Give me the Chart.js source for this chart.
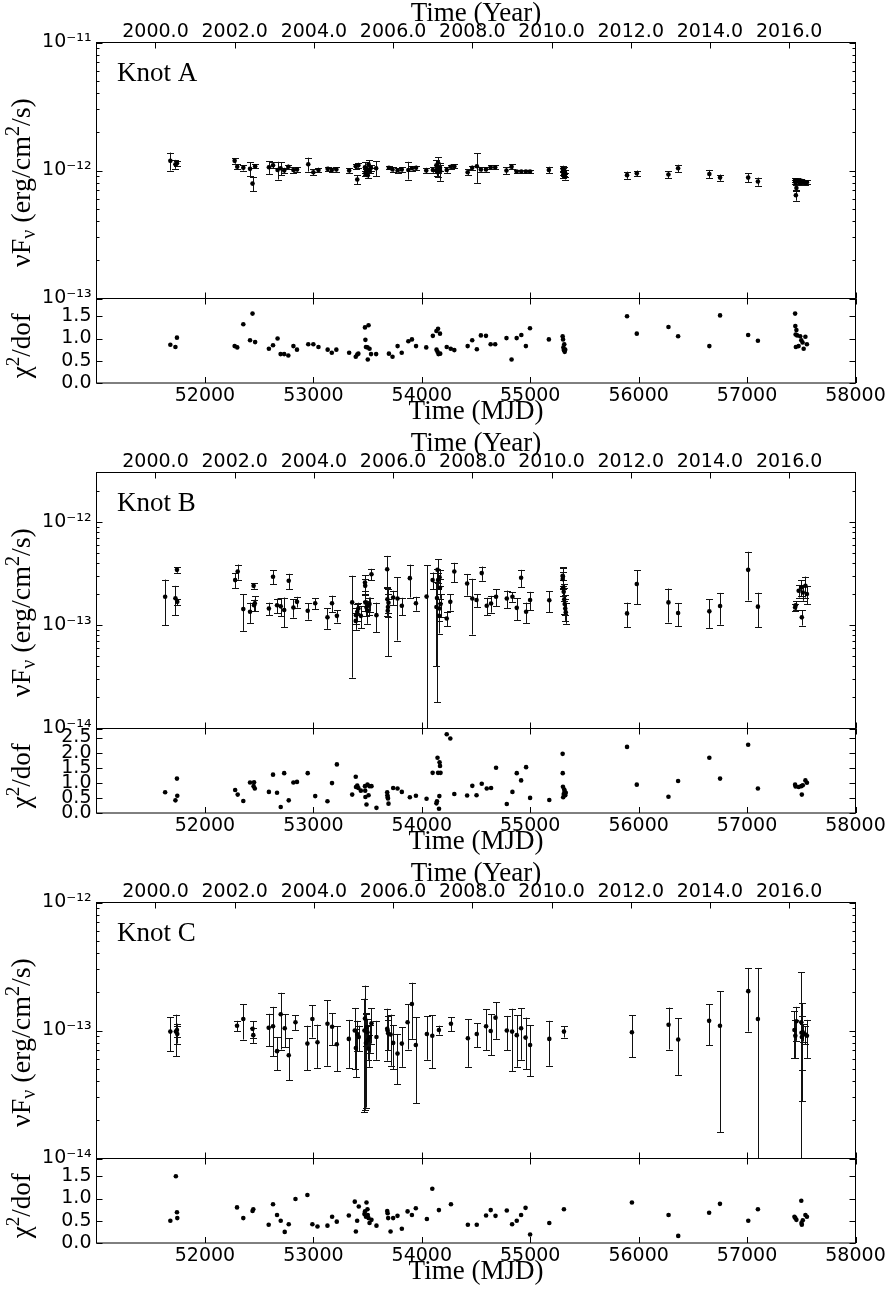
<!DOCTYPE html>
<html><head><meta charset="utf-8">
<script src="https://cdn.jsdelivr.net/npm/chart.js@4.4.1/dist/chart.umd.min.js"></script>
<style>
html,body{margin:0;padding:0;background:#fff;}
#wrap{position:relative;width:890px;height:1291px;overflow:hidden;background:#fff;}
canvas{position:absolute;left:0;}
</style></head><body><div id="wrap"></div>
<script>
// ---------- axis ticks / labels ----------
const yearTicks = [2000, 2002, 2004, 2006, 2008, 2010, 2012, 2014, 2016];
const yearTickLabels = ['2000.0','2002.0','2004.0','2006.0','2008.0','2010.0','2012.0','2014.0','2016.0'];
const mjdTicks = [52000, 53000, 54000, 55000, 56000, 57000, 58000];
const mjdTickLabels = ['52000','53000','54000','55000','56000','57000','58000'];

// ---------- Knot A (flux in units of 1e-12 erg/cm2/s) ----------
const mjdA = [51681,51728,51742,52274,52298,52354,52416,52439,52463,52590,52628,52670,52698,52731,52769,52816,52849,52953,53000,53047,53132,53170,53212,53330,53391,53405,53415,53476,53480,53485,53499,53509,53502,53518,53532,53579,53697,53730,53777,53815,53876,53909,53947,54041,54102,54135,54150,54168,54136,54145,54154,54170,54230,54267,54300,54423,54465,54508,54545,54592,54635,54677,54781,54828,54875,54918,54960,54998,55172,55299,55303,55306,55310,55314,55318,55323,55893,55983,56275,56364,56652,56751,57010,57100,57443,57445,57448,57450,57455,57462,57475,57490,57500,57512,57522,57538,57552];
const fluxA = [1.19,1.12,1.14,1.19,1.07,1.05,1.03,0.79,1.08,1.06,1.10,1.01,1.04,1.00,1.07,1.01,1.02,1.12,0.97,1.01,1.03,1.01,1.02,1.00,1.08,0.85,1.10,1.06,0.95,0.98,1.02,1.12,0.92,1.00,1.05,1.04,1.05,1.02,1.00,1.02,1.01,1.04,1.05,1.00,1.01,1.10,1.15,1.05,1.00,0.97,1.03,0.99,1.01,1.07,1.08,0.97,1.05,1.08,1.02,1.02,1.06,1.06,1.00,1.07,0.98,0.98,0.98,0.98,1.01,1.03,0.98,0.93,0.96,1.00,0.90,0.95,0.92,0.95,0.93,1.04,0.94,0.88,0.88,0.82,0.84,0.82,0.80,0.64,0.73,0.84,0.82,0.80,0.83,0.81,0.82,0.80,0.81];
const errA = [0.19,0.09,0.05,0.06,0.05,0.05,0.13,0.10,0.04,0.12,0.06,0.16,0.12,0.05,0.04,0.05,0.04,0.14,0.05,0.04,0.04,0.04,0.04,0.04,0.05,0.07,0.05,0.10,0.05,0.05,0.06,0.08,0.05,0.05,0.05,0.14,0.03,0.04,0.04,0.04,0.16,0.04,0.04,0.05,0.05,0.10,0.12,0.06,0.10,0.08,0.07,0.16,0.05,0.04,0.04,0.05,0.04,0.28,0.04,0.04,0.04,0.04,0.06,0.05,0.03,0.03,0.03,0.03,0.06,0.06,0.06,0.06,0.05,0.06,0.05,0.06,0.06,0.05,0.06,0.07,0.07,0.05,0.07,0.06,0.03,0.03,0.03,0.06,0.04,0.03,0.03,0.03,0.03,0.03,0.03,0.03,0.03];
const chiA = [0.86,0.81,1.02,0.83,0.80,1.32,0.96,1.56,0.92,0.77,0.85,1.00,0.65,0.65,0.62,0.83,0.75,0.87,0.87,0.81,0.75,0.68,0.75,0.68,0.59,0.64,0.66,1.25,0.97,0.81,0.80,1.30,0.53,0.77,0.65,0.65,0.66,0.59,0.83,0.68,0.94,0.98,0.83,0.80,1.06,1.17,1.22,1.11,0.75,0.70,0.65,0.66,0.81,0.77,0.74,0.83,0.96,0.76,1.07,1.06,0.87,0.87,1.01,0.53,1.01,1.08,0.83,1.23,0.98,1.05,0.98,0.80,0.74,0.87,0.70,0.75,1.50,1.11,1.26,1.05,0.83,1.52,1.08,0.95,1.56,1.28,1.09,0.81,1.19,1.07,0.83,1.05,0.96,0.91,0.77,1.04,0.87];

// ---------- Knot B (flux in units of 1e-13) ----------
const mjdB = [51633,51728,51742,51745,52279,52302,52354,52416,52449,52453,52460,52590,52628,52665,52699,52731,52773,52816,52849,52948,53017,53130,53172,53217,53358,53391,53393,53405,53415,53438,53476,53478,53480,53490,53499,53509,53518,53536,53582,53681,53683,53686,53688,53693,53736,53776,53816,53890,53946,54044,54100,54135,54140,54145,54150,54164,54168,54173,54162,54159,54230,54263,54300,54418,54466,54505,54553,54599,54639,54685,54784,54836,54876,54916,54962,54999,55176,55299,55300,55302,55304,55309,55314,55318,55323,55328,55893,55983,56275,56364,56652,56751,57010,57100,57443,57448,57476,57500,57505,57514,57538,57552];
const fluxB = [1.88,1.82,3.43,1.68,2.73,3.31,1.43,1.35,2.40,1.56,1.63,1.45,2.94,1.56,1.52,1.40,2.69,1.48,1.68,1.38,1.63,1.19,1.63,1.23,1.66,1.10,1.25,1.35,1.45,1.23,2.59,2.40,1.66,1.48,1.38,1.55,1.60,3.11,1.25,3.48,1.78,1.38,1.50,1.65,1.85,1.81,1.54,2.85,1.63,1.89,2.73,1.50,1.83,3.43,2.73,2.90,2.30,1.60,1.45,1.23,1.16,1.68,3.31,2.53,1.81,1.75,3.19,1.54,1.62,1.88,1.81,1.88,1.47,2.88,1.35,1.75,1.74,3.00,2.79,2.95,2.31,2.10,1.78,1.60,1.45,1.33,1.30,2.50,1.66,1.31,1.36,1.53,3.43,1.51,1.48,1.56,2.15,2.31,1.19,2.07,2.40,2.00];
const errB = [0.88,0.58,0.22,0.12,0.45,0.55,0.55,0.30,0.15,0.20,0.27,0.20,0.45,0.25,0.30,0.45,0.45,0.30,0.20,0.25,0.20,0.27,0.30,0.17,1.35,0.20,0.22,0.25,0.20,0.30,0.45,0.40,0.30,0.25,0.35,0.30,0.25,0.40,0.40,1.20,0.55,0.88,0.30,0.35,0.30,1.10,0.30,1.00,0.25,1.92,0.50,1.10,1.65,0.90,0.50,0.50,0.50,0.40,0.35,0.40,0.18,0.30,0.70,0.60,1.00,0.25,0.50,0.30,0.30,0.35,0.35,0.20,0.35,0.55,0.30,0.35,0.40,0.60,0.50,0.70,0.40,0.40,0.50,0.35,0.35,0.30,0.35,0.90,0.60,0.33,0.42,0.52,1.70,0.55,0.12,0.15,0.30,0.40,0.20,0.35,0.55,0.40];
const chiB = [0.69,0.42,1.14,0.57,0.76,0.61,0.40,1.01,0.89,1.02,0.81,0.70,1.27,0.67,0.20,1.32,0.42,1.01,1.03,1.32,0.56,0.39,0.99,1.61,0.61,1.20,0.86,0.91,0.83,0.74,0.89,0.74,0.53,0.28,0.94,0.59,0.89,0.89,0.17,0.69,0.59,0.52,0.48,0.31,0.83,0.81,0.70,0.52,0.57,0.47,1.33,0.32,0.39,1.83,1.33,1.68,1.56,1.33,0.56,0.14,2.61,2.47,0.63,0.58,0.90,0.59,0.97,0.81,0.83,1.50,0.30,0.70,1.32,1.08,1.52,0.50,0.43,1.96,1.32,0.87,0.52,0.63,0.78,0.72,0.59,0.67,2.19,0.94,0.54,1.06,1.83,1.14,2.26,0.81,0.94,0.88,0.86,0.89,0.61,0.92,1.08,1.00];

// ---------- Knot C (flux in units of 1e-13) ----------
const mjdC = [51681,51732,51742,51745,52296,52354,52439,52446,52588,52628,52665,52699,52736,52773,52835,52945,52991,53038,53130,53173,53216,53327,53382,53392,53404,53419,53471,53476,53485,53490,53499,53502,53509,53518,53536,53582,53681,53685,53690,53712,53736,53776,53816,53869,53909,53945,54047,54097,54158,54269,54425,54507,54593,54636,54680,54784,54833,54876,54916,54957,54999,55176,55311,55938,56276,56365,56650,56750,57011,57100,57437,57445,57455,57500,57502,57505,57514,57538,57552];
const fluxC = [0.98,0.98,1.01,0.94,1.09,1.23,1.03,0.92,1.05,1.08,0.69,1.34,1.04,0.64,1.16,0.79,1.23,0.81,1.13,1.07,0.78,0.86,1.00,0.73,0.94,0.89,1.00,1.24,0.80,1.06,0.97,0.84,0.72,0.89,1.14,0.89,1.03,1.00,0.95,0.93,0.80,0.66,0.79,1.16,1.61,0.77,0.94,0.91,1.01,1.13,0.87,0.94,1.08,0.99,1.26,1.00,0.98,0.92,1.04,0.88,0.77,0.86,0.98,0.97,1.11,0.85,1.19,1.09,2.03,1.23,1.01,0.91,1.18,1.16,0.96,0.89,0.97,0.93,0.91];
const errC = [0.29,0.35,0.12,0.15,0.10,0.38,0.15,0.12,0.30,0.45,0.20,0.63,0.30,0.23,0.15,0.30,0.35,0.30,0.60,0.30,0.30,0.35,0.50,0.30,0.25,0.20,0.77,1.00,0.55,0.30,0.25,0.25,0.20,0.22,0.35,0.30,0.45,0.30,0.25,0.40,0.30,0.28,0.27,0.45,0.75,0.50,0.35,0.40,0.08,0.14,0.35,0.20,0.38,0.35,0.40,0.30,0.50,0.40,0.45,0.38,0.33,0.33,0.10,0.35,0.40,0.40,0.42,0.93,1.05,1.85,0.40,0.30,0.35,1.70,0.68,0.40,0.15,0.15,0.30];
const chiC = [0.50,1.50,0.69,0.56,0.80,0.56,0.72,0.76,0.41,0.87,0.63,0.50,0.25,0.42,0.99,1.08,0.42,0.37,0.39,0.59,0.48,0.62,0.93,0.26,0.50,0.82,0.65,0.71,0.59,0.91,0.76,0.63,0.56,0.45,0.52,0.39,0.72,0.67,0.56,0.26,0.56,0.61,0.32,0.71,0.63,0.78,0.54,1.22,0.74,0.87,0.41,0.41,0.62,0.74,0.61,0.73,0.42,0.50,0.63,0.79,0.19,0.45,0.76,0.91,0.63,0.16,0.68,0.88,0.50,0.76,0.59,0.56,0.52,0.95,0.45,0.41,0.51,0.63,0.59];

// ---------- per-panel axis settings ----------
const panels = [
  {name:'Knot A', mjd:mjdA, flux:fluxA, err:errA, chi:chiA, unit:1e-12,
   yMin:1e-13, yMax:1e-11, yTicks:[1e-13,1e-12,1e-11], yTickLabels:['10\u207B\u00B9\u00B3','10\u207B\u00B9\u00B2','10\u207B\u00B9\u00B9'],
   chiMax:1.9, chiTicks:[0,0.5,1.0,1.5], chiTickLabels:['0.0','0.5','1.0','1.5']},
  {name:'Knot B', mjd:mjdB, flux:fluxB, err:errB, chi:chiB, unit:1e-13,
   yMin:1e-14, yMax:3e-12, yTicks:[1e-14,1e-13,1e-12], yTickLabels:['10\u207B\u00B9\u2074','10\u207B\u00B9\u00B3','10\u207B\u00B9\u00B2'],
   chiMax:2.8, chiTicks:[0,0.5,1.0,1.5,2.0,2.5], chiTickLabels:['0.0','0.5','1.0','1.5','2.0','2.5']},
  {name:'Knot C', mjd:mjdC, flux:fluxC, err:errC, chi:chiC, unit:1e-13,
   yMin:1e-14, yMax:1e-12, yTicks:[1e-14,1e-13,1e-12], yTickLabels:['10\u207B\u00B9\u2074','10\u207B\u00B9\u00B3','10\u207B\u00B9\u00B2'],
   chiMax:1.9, chiTicks:[0,0.5,1.0,1.5], chiTickLabels:['0.0','0.5','1.0','1.5']}
];

const MJD_MIN = 51000, MJD_MAX = 58000, MJD_Y2000 = 51544, DAYS_YR = 365.25;
const toYear = m => 2000 + (m - MJD_Y2000) / DAYS_YR;

const W = 890, PANEL_STEP = 430;
const MAIN_H = 312, MAIN_TOP = 42.5, MAIN_BOTTOM = 298.5;
const CHI_OFF = 290, CHI_H = 140, CHI_TOP = 8.5, CHI_BOTTOM = 93;
const AX_LEFT = 96.5, AX_RIGHT = 855.5;
const TICK_FONT = {family:'DejaVu Sans', size:19};
const SERIF = 'Liberation Serif';
const SERIF_SIZE = 27;

function richVertical(ctx, parts, bx, cy) {
  ctx.save();
  ctx.translate(bx, cy);
  ctx.rotate(-Math.PI / 2);
  let w = 0;
  parts.forEach(p => { ctx.font = p.f; p.w = ctx.measureText(p.t).width; w += p.w; });
  let x = -w / 2;
  ctx.fillStyle = '#000';
  ctx.textBaseline = 'alphabetic';
  ctx.textAlign = 'left';
  parts.forEach(p => { ctx.font = p.f; ctx.fillText(p.t, x, p.dy || 0); x += p.w; });
  ctx.restore();
}

const decor = {
  id: 'decor',
  beforeDatasetsDraw(chart, args, o) {
    if (!o.err) return;
    const {ctx, chartArea: a} = chart;
    const xs = chart.scales.x, ys = chart.scales.y;
    ctx.save();
    ctx.beginPath(); ctx.rect(a.left, a.top, a.right - a.left, a.bottom - a.top); ctx.clip();
    ctx.strokeStyle = '#111'; ctx.lineWidth = 1;
    const e = o.err;
    for (let i = 0; i < e.mjd.length; i++) {
      const x = Math.round(xs.getPixelForValue(e.mjd[i])) + 0.5;
      const f = e.flux[i] * e.unit, d = e.err[i] * e.unit;
      const lo = f - d, hi = f + d;
      const yHi = ys.getPixelForValue(hi);
      const yLo = lo > 0 ? ys.getPixelForValue(lo) : a.bottom + 10;
      ctx.beginPath();
      ctx.moveTo(x, yLo); ctx.lineTo(x, yHi);
      ctx.moveTo(x - 3.5, Math.round(yHi) + 0.5); ctx.lineTo(x + 3.5, Math.round(yHi) + 0.5);
      if (lo > 0) { ctx.moveTo(x - 3.5, Math.round(yLo) + 0.5); ctx.lineTo(x + 3.5, Math.round(yLo) + 0.5); }
      ctx.stroke();
    }
    ctx.restore();
  },
  afterDraw(chart, args, o) {
    const {ctx, chartArea: a} = chart;
    ctx.save();
    ctx.strokeStyle = '#000'; ctx.lineWidth = 1;
    ctx.strokeRect(a.left, a.top, a.right - a.left, a.bottom - a.top);
    ctx.beginPath();
    const xs = chart.scales.x;
    const px = v => Math.round(xs.getPixelForValue(v)) + 0.5;
    (o.bottomTicks || []).forEach(v => { const x = px(v); ctx.moveTo(x, a.bottom); ctx.lineTo(x, a.bottom - 6); });
    if (o.topTicks) {
      const ts = chart.scales[o.topScale];
      o.topTicks.forEach(v => { const x = Math.round(ts.getPixelForValue(v)) + 0.5; ctx.moveTo(x, a.top); ctx.lineTo(x, a.top + 6); });
    }
    const ys = chart.scales.y;
    const py = v => Math.round(ys.getPixelForValue(v)) + 0.5;
    (o.yMajor || []).forEach(v => { const y = py(v); ctx.moveTo(a.left, y); ctx.lineTo(a.left + 6, y); ctx.moveTo(a.right, y); ctx.lineTo(a.right - 6, y); });
    (o.yMinor || []).forEach(v => { const y = py(v); ctx.moveTo(a.left, y); ctx.lineTo(a.left + 3, y); ctx.moveTo(a.right, y); ctx.lineTo(a.right - 3, y); });
    ctx.stroke();
    if (o.label) {
      ctx.fillStyle = '#000';
      ctx.font = SERIF_SIZE + 'px "' + SERIF + '"';
      ctx.textBaseline = 'alphabetic'; ctx.textAlign = 'left';
      ctx.fillText(o.label, 117, 81);
    }
    if (o.yTitle) richVertical(ctx, o.yTitle, 30, (a.top + a.bottom) / 2 + (o.yTitleShift || 0));
    ctx.restore();
  }
};

const wrap = document.getElementById('wrap');
function addCanvas(top, h) {
  const c = document.createElement('canvas');
  c.width = W; c.height = h;
  c.style.width = W + 'px'; c.style.height = h + 'px'; c.style.top = top + 'px';
  wrap.appendChild(c);
  return c;
}

const big = '28px "' + SERIF + '"';
const small = '20px "' + SERIF + '"';
const fluxTitle = [{t:'\u03BDF', f:big}, {t:'\u03BD', f:small, dy:5}, {t:' (erg/cm', f:big}, {t:'2', f:small, dy:-11}, {t:'/s)', f:big}];
const chiBig = SERIF_SIZE + 'px "' + SERIF + '"';
const chiTitle = [{t:'\u03C7', f:chiBig}, {t:'2', f:'19px "' + SERIF + '"', dy:-11}, {t:'/dof', f:chiBig}];
const noTicks = {display: false, drawTicks: false};

panels.forEach((p, k) => {
  const top = k * PANEL_STEP;
  // minor log ticks
  const minor = [];
  for (let e = Math.floor(Math.log10(p.yMin)); e <= Math.ceil(Math.log10(p.yMax)); e++) {
    for (let m = 2; m <= 9; m++) { const v = m * Math.pow(10, e); if (v > p.yMin && v < p.yMax) minor.push(v); }
  }
  // main flux panel
  new Chart(addCanvas(top, MAIN_H), {
    type: 'scatter',
    data: {datasets: [{
      data: p.mjd.map((m, i) => ({x: m, y: p.flux[i] * p.unit})),
      pointRadius: 2.3, pointBackgroundColor: '#000', pointBorderColor: '#000', pointBorderWidth: 0
    }]},
    options: {
      responsive: false, animation: false, devicePixelRatio: 1, events: [],
      layout: {padding: {left: 0, right: W - AX_RIGHT, top: 0, bottom: MAIN_H - MAIN_BOTTOM}},
      plugins: {legend: {display: false}, tooltip: {enabled: false},
        decor: {err: {mjd: p.mjd, flux: p.flux, err: p.err, unit: p.unit},
          bottomTicks: mjdTicks, topTicks: yearTicks, topScale: 'x2',
          yMajor: p.yTicks, yMinor: minor, label: p.name, yTitle: fluxTitle, yTitleShift: 12}},
      scales: {
        x: {type: 'linear', display: false, min: MJD_MIN, max: MJD_MAX},
        x2: {type: 'linear', position: 'top', min: toYear(MJD_MIN), max: toYear(MJD_MAX),
          grid: noTicks, border: {display: false},
          ticks: {font: TICK_FONT, color: '#000', padding: -1, autoSkip: false, maxRotation: 0,
            callback: (v, i) => yearTickLabels[i]},
          afterBuildTicks: s => { s.ticks = yearTicks.map(v => ({value: v})); },
          title: {display: true, text: 'Time (Year)', color: '#000', font: {family: SERIF, size: SERIF_SIZE, lineHeight: 1}, padding: {top: 0, bottom: 0}},
          afterFit: s => { s.height = MAIN_TOP; s.paddingLeft = 0; s.paddingRight = 0; }},
        y: {type: 'logarithmic', position: 'left', min: p.yMin, max: p.yMax,
          grid: noTicks, border: {display: false},
          ticks: {font: TICK_FONT, color: '#000', padding: 5, autoSkip: false,
            callback: (v, i) => p.yTickLabels[i]},
          afterBuildTicks: s => { s.ticks = p.yTicks.map(v => ({value: v})); },
          afterFit: s => { s.width = AX_LEFT; s.paddingTop = 0; s.paddingBottom = 0; }}
      }
    },
    plugins: [decor]
  });
  // chi2 panel
  new Chart(addCanvas(top + CHI_OFF, CHI_H), {
    type: 'scatter',
    data: {datasets: [{
      data: p.mjd.map((m, i) => ({x: m, y: p.chi[i]})),
      pointRadius: 2.3, pointBackgroundColor: '#000', pointBorderColor: '#000', pointBorderWidth: 0
    }]},
    options: {
      responsive: false, animation: false, devicePixelRatio: 1, events: [],
      layout: {padding: {left: 0, right: W - AX_RIGHT, top: CHI_TOP, bottom: 0}},
      plugins: {legend: {display: false}, tooltip: {enabled: false},
        decor: {bottomTicks: mjdTicks, topTicks: mjdTicks, topScale: 'x',
          yMajor: p.chiTicks, label: null, yTitle: chiTitle, yTitleShift: 5}},
      scales: {
        x: {type: 'linear', position: 'bottom', min: MJD_MIN, max: MJD_MAX,
          grid: noTicks, border: {display: false},
          ticks: {font: TICK_FONT, color: '#000', padding: 2, autoSkip: false, maxRotation: 0,
            callback: (v, i) => mjdTickLabels[i]},
          afterBuildTicks: s => { s.ticks = mjdTicks.map(v => ({value: v})); },
          title: {display: true, text: 'Time (MJD)', color: '#000', font: {family: SERIF, size: SERIF_SIZE, lineHeight: 1}, padding: {top: 0, bottom: 5}},
          afterFit: s => { s.height = CHI_H - CHI_BOTTOM; s.paddingLeft = 0; s.paddingRight = 0; }},
        y: {type: 'linear', position: 'left', min: 0, max: p.chiMax,
          grid: noTicks, border: {display: false},
          ticks: {font: TICK_FONT, color: '#000', padding: 5, autoSkip: false,
            callback: (v, i) => p.chiTickLabels[i]},
          afterBuildTicks: s => { s.ticks = p.chiTicks.map(v => ({value: v})); },
          afterFit: s => { s.width = AX_LEFT; s.paddingTop = 0; s.paddingBottom = 0; }}
      }
    },
    plugins: [decor]
  });
});
</script></body></html>
